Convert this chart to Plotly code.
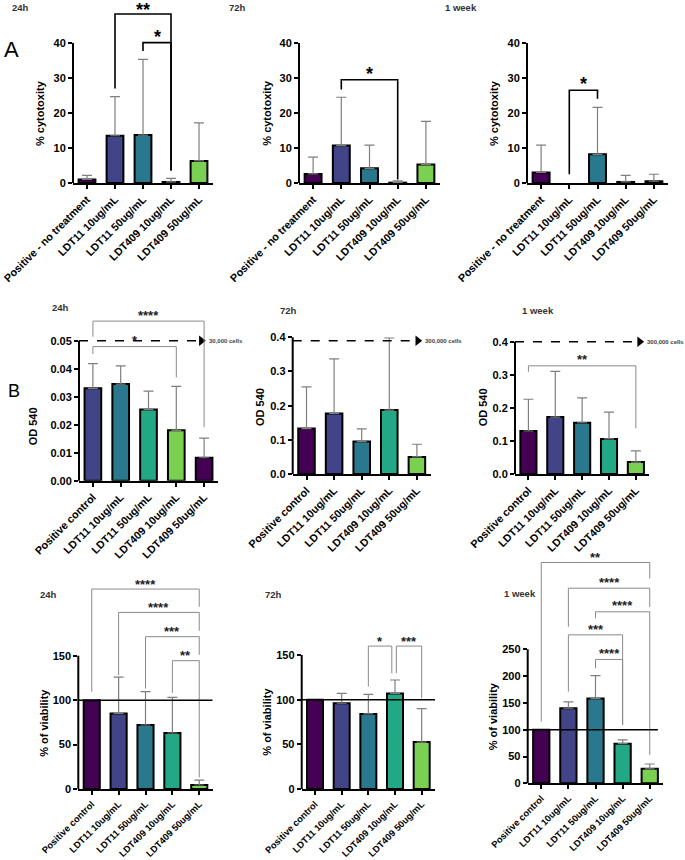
import plotly.graph_objects as go

W, H = 685, 860
FONT = "Liberation Sans"

# ---------------- data ----------------
cats_cyto = ["Positive - no treatment", "LDT11 10ug/mL", "LDT11 50ug/mL", "LDT409 10ug/mL", "LDT409 50ug/mL"]
cats_od = ["Positive control", "LDT11 10ug/mL", "LDT11 50ug/mL", "LDT409 10ug/mL", "LDT409 50ug/mL"]

viridis = ["#440154", "#414487", "#2A788E", "#22A884", "#7AD151"]
viridis_shift = ["#414487", "#2A788E", "#22A884", "#7AD151", "#440154"]

cyto_24h = [1.0, 13.5, 13.7, 0.3, 6.3]
cyto_24h_sd = [1.2, 11.2, 21.6, 1.0, 10.9]
cyto_72h = [2.6, 10.7, 4.2, 0.1, 5.3]
cyto_72h_sd = [4.8, 13.8, 6.6, 0.5, 12.3]
cyto_1w = [3.0, None, 8.2, 0.3, 0.5]
cyto_1w_sd = [7.8, 0.0, 13.4, 1.9, 2.0]

od_24h = [0.033, 0.0345, 0.0254, 0.018, 0.0082]
od_24h_sd = [0.0088, 0.0065, 0.0066, 0.0157, 0.0070]
od_72h = [0.133, 0.177, 0.095, 0.187, 0.050]
od_72h_sd = [0.122, 0.160, 0.037, 0.211, 0.037]
od_1w = [0.130, 0.172, 0.155, 0.106, 0.036]
od_1w_sd = [0.096, 0.138, 0.075, 0.081, 0.034]

via_24h = [100, 85, 72, 63, 4.5]
via_24h_sd = [0, 41, 37.5, 40, 5.5]
via_72h = [100, 96, 84, 107, 52.5]
via_72h_sd = [0, 11, 22, 15, 37.5]
via_1w = [100, 140, 158, 74, 27]
via_1w_sd = [0, 12, 43, 7, 9]

# significance brackets: (label, x_left, x_right, y_top, y_left_end, y_right_end, y_label)
sig_cyto_24h = [("**", 1, 3, 48.3, 27, 3.6, 50.5), ("*", 2, 3, 40.1, 37.7, 3.6, 43.0)]
sig_cyto_72h = [("*", 1, 3, 29.5, 26.7, 1.0, 32.2)]
sig_cyto_1w = [("*", 1, 2, 26.5, 2.5, 24.1, 29.3)]
sig_od_24h = [("****", 0, 4, 0.0570, 0.0514, 0.0191, 0.0600),
              ("*", 0, 3, 0.0479, 0.0452, 0.0369, 0.0510)]
sig_od_72h = []
sig_od_1w = [("**", 0, 4, 0.327, 0.309, 0.138, 0.355)]
sig_via_24h = [("****", 0, 4, 225, 109.5, 205, 234),
               ("****", 1, 4, 198.7, 128, 178, 208),
               ("***", 2, 4, 171.4, 113, 151, 180.8),
               ("**", 3, 4, 144.4, 108, 13, 153.8)]
sig_via_72h = [("*", 2, 2.88, 160, 114.5, 129.5, 168.7),
               ("***", 3.05, 4, 160, 129.5, 101.5, 168.7)]
sig_via_1w = [("**", 0, 4, 412, 115, 382, 426),
              ("****", 1, 4, 364, 292, 329, 381),
              ("****", 2, 4, 320, 308, 53, 337),
              ("***", 1, 3, 277, 171, 109, 292),
              ("****", 2, 3, 231, 214.5, 109, 247)]

ticks_cyto = [0, 10, 20, 30, 40]
ticks_od24 = [0, 0.01, 0.02, 0.03, 0.04, 0.05]
ticks_od24_text = ["0.00", "0.01", "0.02", "0.03", "0.04", "0.05"]
ticks_od = [0, 0.1, 0.2, 0.3, 0.4]
ticks_od_text = ["0.0", "0.1", "0.2", "0.3", "0.4"]
ticks_via = [0, 50, 100, 150]
ticks_via_1w = [0, 50, 100, 150, 200, 250]

# ---------------- panel layout (pixels) ----------------
panels = [
    dict(cats=cats_cyto, y=cyto_24h, sd=cyto_24h_sd, colors=viridis, sig=sig_cyto_24h, row="A",
         xpx=(73, 213), y0px=183, tpx=43, tval=40, toppx=0, tv=ticks_cyto, tt=None,
         title="24h", title_pos=(10, 8), ytitle="% cytotoxity", ytitle_pos=(40, 113)),
    dict(cats=cats_cyto, y=cyto_72h, sd=cyto_72h_sd, colors=viridis, sig=sig_cyto_72h, row="A",
         xpx=(299, 440), y0px=183, tpx=43, tval=40, toppx=0, tv=ticks_cyto, tt=None,
         title="72h", title_pos=(227, 8), ytitle="% cytotoxity", ytitle_pos=(266.7, 113)),
    dict(cats=cats_cyto, y=cyto_1w, sd=cyto_1w_sd, colors=viridis, sig=sig_cyto_1w, row="A",
         xpx=(527, 668), y0px=183, tpx=43, tval=40, toppx=0, tv=ticks_cyto, tt=None,
         title="1 week", title_pos=(443, 8), ytitle="% cytotoxity", ytitle_pos=(494, 113)),
    dict(cats=cats_od, y=od_24h, sd=od_24h_sd, colors=viridis_shift, sig=sig_od_24h, row="B",
         xpx=(79, 218), y0px=480.7, tpx=340.7, tval=0.05, toppx=300, tv=ticks_od24, tt=ticks_od24_text,
         title="24h", title_pos=(50, 308), ytitle="OD 540", ytitle_pos=(33.3, 426),
         arrow=(0.05, 4.02, "30,000 cells")),
    dict(cats=cats_od, y=od_72h, sd=od_72h_sd, colors=viridis, sig=sig_od_72h, row="B",
         xpx=(292.7, 430.7), y0px=474, tpx=337.3, tval=0.4, toppx=325, tv=ticks_od, tt=ticks_od_text,
         title="72h", title_pos=(278, 310), ytitle="OD 540", ytitle_pos=(260, 407),
         arrow=(0.39, 4.15, "300,000 cells")),
    dict(cats=cats_od, y=od_1w, sd=od_1w_sd, colors=viridis, sig=sig_od_1w, row="B",
         xpx=(515, 649.3), y0px=474, tpx=341.7, tval=0.4, toppx=325, tv=ticks_od, tt=ticks_od_text,
         title="1 week", title_pos=(520, 310), ytitle="OD 540", ytitle_pos=(483.3, 407),
         arrow=(0.4, 4.26, "300,000 cells")),
    dict(cats=cats_od, y=via_24h, sd=via_24h_sd, colors=viridis, sig=sig_via_24h, row="C",
         xpx=(78.3, 212.7), y0px=789, tpx=655.7, tval=150, toppx=570, tv=ticks_via, tt=None,
         title="24h", title_pos=(38, 594), ytitle="% of viability", ytitle_pos=(43.3, 722.5), ref=(100, 4.5)),
    dict(cats=cats_od, y=via_72h, sd=via_72h_sd, colors=viridis, sig=sig_via_72h, row="C",
         xpx=(301.7, 435), y0px=789, tpx=655, tval=150, toppx=570, tv=ticks_via, tt=None,
         title="72h", title_pos=(263, 594), ytitle="% of viability", ytitle_pos=(266.7, 722), ref=(100, 4.5)),
    dict(cats=cats_od, y=via_1w, sd=via_1w_sd, colors=viridis, sig=sig_via_1w, row="C",
         xpx=(527.7, 663.3), y0px=783.3, tpx=649.3, tval=250, toppx=548, tv=ticks_via_1w, tt=None,
         title="1 week", title_pos=(502, 593), ytitle="% of viability", ytitle_pos=(493.3, 716), ref=(100, 4.3)),
]

fig = go.Figure()
layout = dict(width=W, height=H, margin=dict(l=0, r=0, t=0, b=0, autoexpand=False),
              paper_bgcolor="white", plot_bgcolor="white", showlegend=False,
              font=dict(family=FONT, color="black"))
shapes = []
annotations = []

for i, p in enumerate(panels, start=1):
    xa = "x" if i == 1 else f"x{i}"
    ya = "y" if i == 1 else f"y{i}"
    n = len(p["cats"])
    xs = list(range(n))
    rmax = p["tval"] * (p["y0px"] - p["toppx"]) / (p["y0px"] - p["tpx"])
    fig.add_trace(go.Bar(
        x=xs, y=p["y"], width=0.6, xaxis=xa, yaxis=ya,
        marker=dict(color=p["colors"], line=dict(color="black", width=2)),
        error_y=dict(type="data", symmetric=False, array=p["sd"], arrayminus=[0] * n,
                     color="#7f7f7f", thickness=1.2, width=5),
        hoverinfo="skip", showlegend=False))

    xfs = 9.3 if p["row"] == "C" else 10.8
    xkey = "xaxis" if i == 1 else f"xaxis{i}"
    ykey = "yaxis" if i == 1 else f"yaxis{i}"
    layout[xkey] = dict(domain=[p["xpx"][0] / W, p["xpx"][1] / W], anchor=ya, automargin=False,
                        range=[-0.5, n - 0.5], tickvals=xs, ticktext=p["cats"], tickangle=-45,
                        ticks="outside", ticklen=4, tickwidth=1.5, tickcolor="black",
                        showline=True, linewidth=2, linecolor="black",
                        showgrid=False, zeroline=False,
                        tickfont=dict(family=FONT, size=xfs, color="black", weight="bold"))
    layout[ykey] = dict(domain=[1 - p["y0px"] / H, 1 - p["toppx"] / H], anchor=xa, automargin=False,
                        range=[0, rmax], tickvals=p["tv"],
                        ticktext=p["tt"] if p["tt"] else [str(v) for v in p["tv"]],
                        ticks="outside", ticklen=4, tickwidth=1.5, tickcolor="black",
                        showline=False, showgrid=False, zeroline=False,
                        tickfont=dict(family=FONT, size=11, color="black", weight="bold"))
    # y axis line up to top tick
    shapes.append(dict(type="line", xref="paper", yref="paper",
                       x0=p["xpx"][0] / W, x1=p["xpx"][0] / W,
                       y0=1 - p["y0px"] / H, y1=1 - p["tpx"] / H,
                       line=dict(color="black", width=2)))

    # significance brackets
    top_row = p["row"] == "A"
    bcol = "black" if top_row else "#8a8a8a"
    bw = 1.6 if top_row else 1.0
    for (lab, xl, xr, yt, yl, yr, ylab) in p["sig"]:
        shapes.append(dict(type="path", xref=xa, yref=ya,
                           path=f"M {xl},{yl} L {xl},{yt} L {xr},{yt} L {xr},{yr}",
                           line=dict(color=bcol, width=bw)))
        annotations.append(dict(x=(xl + xr) / 2, y=ylab, xref=xa, yref=ya, text=lab, showarrow=False,
                                yanchor="middle", yshift=-4 if top_row else -3,
                                font=dict(family=FONT, size=18 if top_row else 13,
                                          color="black" if top_row else "#222", weight="bold")))

    # reference line at 100 %
    if "ref" in p:
        yv, xend = p["ref"]
        shapes.append(dict(type="line", xref=xa, yref=ya, x0=-0.5, x1=xend, y0=yv, y1=yv,
                           line=dict(color="black", width=1.5)))

    # dashed arrow with cell number
    if "arrow" in p:
        yv, xtip, txt = p["arrow"]
        shapes.append(dict(type="line", xref=xa, yref=ya, x0=-0.5, x1=xtip - 0.1, y0=yv, y1=yv,
                           line=dict(color="black", width=1.5, dash="dash")))
        fig.add_trace(go.Scatter(x=[xtip - 0.12], y=[yv], mode="markers", xaxis=xa, yaxis=ya,
                                 marker=dict(symbol="triangle-right", size=9, color="black"),
                                 cliponaxis=False, hoverinfo="skip", showlegend=False))
        annotations.append(dict(x=xtip + 0.08, y=yv, xref=xa, yref=ya, text=txt, showarrow=False,
                                xanchor="left", yanchor="middle",
                                font=dict(family=FONT, size=6, color="#444", weight="bold")))

    # panel title
    annotations.append(dict(x=p["title_pos"][0] / W, y=1 - p["title_pos"][1] / H, xref="paper", yref="paper",
                            text=p["title"], showarrow=False, xanchor="left", yanchor="middle",
                            font=dict(family=FONT, size=9.5, color="#333", weight="bold")))
    # y title
    annotations.append(dict(x=p["ytitle_pos"][0] / W, y=1 - p["ytitle_pos"][1] / H, xref="paper", yref="paper",
                            text=p["ytitle"], showarrow=False, textangle=-90, xanchor="center", yanchor="middle",
                            font=dict(family=FONT, size=11, color="black", weight="bold")))

# section letters
annotations.append(dict(x=2 / W, y=1 - 50 / H, xref="paper", yref="paper", text="A", showarrow=False,
                        xanchor="left", yanchor="middle", font=dict(family=FONT, size=22, color="black")))
annotations.append(dict(x=6 / W, y=1 - 391 / H, xref="paper", yref="paper", text="B", showarrow=False,
                        xanchor="left", yanchor="middle", font=dict(family=FONT, size=18, color="black")))

layout["shapes"] = shapes
layout["annotations"] = annotations
fig.update_layout(**layout)
fig.write_html("out.html", config={"displayModeBar": False},
               post_script="document.body.style.margin='0';document.body.style.overflow='hidden';")
